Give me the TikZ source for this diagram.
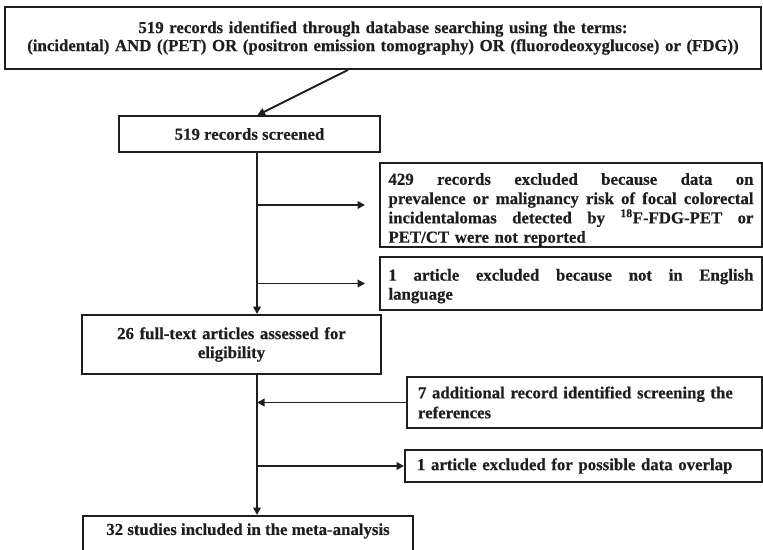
\documentclass[tikz,border=0pt]{standalone}
\usepackage{fontspec}
\setmainfont{Liberation Serif}[FakeStretch=1.0, BoldFeatures={FakeBold=0.4}]
\usetikzlibrary{arrows.meta}
\definecolor{ink}{HTML}{1E1E1E}
\newcommand\jl[1]{\leavevmode\hbox to 365pt{\spaceskip=0.25em plus 1fil minus 0.1em\relax #1}}
\newcommand\dn[1]{\rule{0pt}{#1}}
\tikzset{
  box/.style={draw=ink, text=ink, line width=1.9pt, inner sep=0pt,
    font=\bfseries\fontsize{16.8}{19}\selectfont},
  arr/.style={draw=ink, line width=1.9pt, -{Triangle[length=7.5pt,width=7.5pt]}},
}
\begin{document}
\begin{tikzpicture}[x=1pt,y=-1pt]
\clip (0,0) rectangle (763,549);
\fill[white] (0,0) rectangle (763,549);
\node[box, minimum width=756pt, minimum height=62pt, text width=750pt, align=center,
  font=\bfseries\fontsize{16.8}{18}\selectfont] (top) at (383,38)
  {519 records identified through database searching using the terms:\\(incidental) AND ((PET) OR (positron emission tomography) OR (fluorodeoxyglucose) or (FDG))};
\node[box, minimum width=261pt, minimum height=36pt] (scr) at (249.5,134) {519 records screened};
\node[box, minimum width=382pt, minimum height=84pt, text width=365pt, align=left,
  font=\bfseries\fontsize{16.8}{19.3}\selectfont] (ex1) at (571,205)
  {\jl{\dn{21pt}429 records excluded because data on}\\
   \jl{prevalence or malignancy risk of focal colorectal}\\
   \jl{incidentalomas detected by \textsuperscript{18}F-FDG-PET or}\\
   PET/CT were not reported};
\node[box, minimum width=382pt, minimum height=53pt, text width=365pt, align=left] (ex2) at (571,283.5)
  {\jl{\dn{17pt}1 article excluded because not in English}\\language};
\node[box, minimum width=299pt, minimum height=59pt, text width=290pt, align=center] (full) at (231.5,344.5)
  {26 full-text articles assessed for\\eligibility};
\node[box, minimum width=355pt, minimum height=51pt, inner xsep=11pt, text width=333pt, align=left,
  font=\bfseries\fontsize{16.8}{20}\selectfont] (add) at (584.5,402.5)
  {7 additional record identified screening the\\references};
\node[box, minimum width=357pt, minimum height=32pt, inner xsep=12pt, text width=333pt, align=left] (ex3) at (583.5,466)
  {1 article excluded for possible data overlap};
\node[box, minimum width=330pt, anchor=north, inner ysep=4pt, text height=15pt, text depth=25pt] (incl) at (248,515)
  {32 studies included in the meta-analysis};
\coordinate (tx) at (257,0);
\draw[arr] ([xshift=-35pt]top.south) -- ([xshift=8pt]scr.north);
\draw[arr] (scr.south -| tx) -- (full.north -| tx);
\draw[arr] (ex1.west -| tx) -- ([xshift=-14pt]ex1.west);
\draw[arr] (ex2.west -| tx) -- ([xshift=-14pt]ex2.west);
\draw[arr] (full.south -| tx) -- (incl.north -| tx);
\draw[arr] (add.west) -- (add.west -| tx);
\draw[arr] (ex3.west -| tx) -- (ex3.west);
\end{tikzpicture}
\end{document}
